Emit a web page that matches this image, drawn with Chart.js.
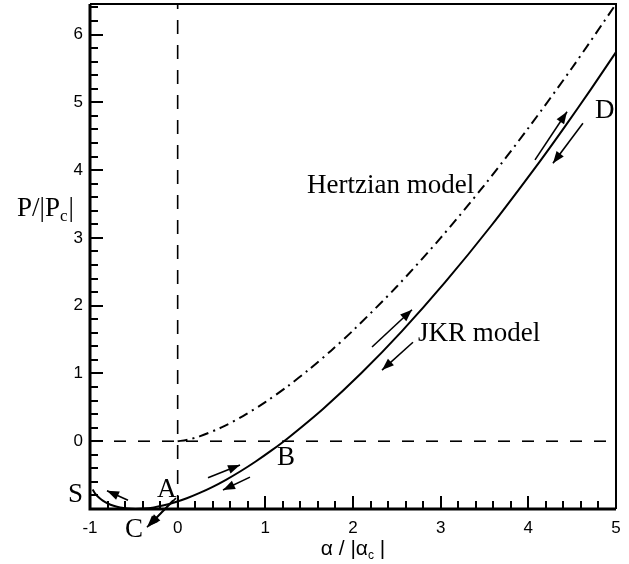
<!DOCTYPE html>
<html>
<head>
<meta charset="utf-8">
<script src="https://cdn.jsdelivr.net/npm/chart.js@4/dist/chart.umd.min.js"></script>
<style>
html,body{margin:0;padding:0;background:#fff;}
canvas{display:block;}
</style>
</head>
<body>
<canvas id="chart" width="629" height="564"></canvas>
<script>
// JKR curve (alpha/|alpha_c|, P/|Pc|), from S round C to D
const jkrAlpha = [-0.970, -0.941, -0.902, -0.854, -0.797, -0.731, -0.656, -0.573, -0.481, -0.380, -0.272, -0.155, -0.030, 0.104, 0.245, 0.394, 0.551, 0.717, 0.890, 1.071, 1.260, 1.661, 2.093, 2.556, 3.049, 3.574, 4.128, 4.417, 4.713, 5.017];
const jkrP = [-0.713, -0.773, -0.828, -0.877, -0.919, -0.953, -0.979, -0.994, -1.0, -0.994, -0.976, -0.946, -0.901, -0.842, -0.767, -0.677, -0.569, -0.443, -0.299, -0.136, 0.048, 0.480, 1.002, 1.621, 2.343, 3.175, 4.122, 4.641, 5.191, 5.773];

// Hertzian curve
const hertzAlpha = [0, 0.1, 0.25, 0.5, 0.75, 1, 1.25, 1.5, 1.75, 2, 2.5, 3, 3.5, 4, 4.5, 5];
const hertzP = [0, 0.018, 0.072, 0.204, 0.375, 0.577, 0.806, 1.06, 1.336, 1.633, 2.282, 3.0, 3.78, 4.62, 5.51, 6.45];

// axes
const xMin = -1, xMax = 5;
const yMin = -1, yMax = 6.45;

// arrows along the JKR curve (data coords), tail -> head
const arrowFromX = [4.076, 4.623, 2.217, 2.684, 0.346, 0.825, -0.567, -0.053, -0.020];
const arrowFromY = [4.15, 4.69, 1.39, 1.46, -0.54, -0.53, -0.87, -0.87, -0.84];
const arrowToX = [4.441, 4.281, 2.673, 2.331, 0.711, 0.517, -0.806, -0.350, -0.330];
const arrowToY = [4.86, 4.10, 1.94, 1.05, -0.35, -0.72, -0.73, -1.27, -1.25];

// text labels (left edge, baseline) in data coords
const labelText = ['Hertzian model', 'JKR model', 'D', 'B', 'A', 'S', 'C'];
const labelX = [1.475, 2.741, 4.760, 1.133, -0.236, -1.251, -0.601];
const labelY = [3.66, 1.478, 4.77, -0.351, -0.823, -0.897, -1.413];

function pts(xs, ys){
  return xs.map((x,i)=>({x:x, y:ys[i]}));
}

function drawArrow(ctx, x1, y1, x2, y2){
  const ang = Math.atan2(y2-y1, x2-x1);
  const L = 12, W = 4.5;
  ctx.beginPath(); ctx.moveTo(x1,y1); ctx.lineTo(x2,y2); ctx.stroke();
  ctx.beginPath();
  ctx.moveTo(x2,y2);
  ctx.lineTo(x2-L*Math.cos(ang)+W*Math.sin(ang), y2-L*Math.sin(ang)-W*Math.cos(ang));
  ctx.lineTo(x2-L*Math.cos(ang)-W*Math.sin(ang), y2-L*Math.sin(ang)+W*Math.cos(ang));
  ctx.closePath(); ctx.fill();
}

const decorPlugin = {
  id: 'decor',
  afterDraw(chart){
    const ctx = chart.ctx;
    const xs = chart.scales.x, ys = chart.scales.y;
    const a = chart.chartArea;
    ctx.save();
    ctx.setLineDash([]);
    ctx.lineCap = 'butt';
    ctx.strokeStyle = '#000'; ctx.fillStyle = '#000';

    // frame
    ctx.lineWidth = 2;
    ctx.beginPath();
    ctx.moveTo(a.left, a.top); ctx.lineTo(a.right, a.top); ctx.lineTo(a.right, a.bottom);
    ctx.stroke();
    ctx.lineWidth = 3;
    ctx.beginPath();
    ctx.moveTo(a.left, a.top); ctx.lineTo(a.left, a.bottom); ctx.lineTo(a.right, a.bottom);
    ctx.stroke();

    // inward ticks, minor every 0.2
    for(let i = -5; i <= 32; i++){
      const py = Math.round(ys.getPixelForValue(i/5));
      const len = (i%5===0) ? 13 : 8;
      ctx.fillRect(a.left, py-1, len, 2);
    }
    for(let i = -5; i <= 25; i++){
      const px = Math.round(xs.getPixelForValue(i/5));
      const len = (i%5===0) ? 13 : 8;
      ctx.fillRect(px-1, a.bottom-len, 2, len);
    }

    // arrows
    ctx.lineWidth = 1.6;
    for(let i=0;i<arrowFromX.length;i++){
      drawArrow(ctx, xs.getPixelForValue(arrowFromX[i]), ys.getPixelForValue(arrowFromY[i]),
                xs.getPixelForValue(arrowToX[i]), ys.getPixelForValue(arrowToY[i]));
    }

    // labels
    ctx.font = '27px "Liberation Serif"';
    ctx.textAlign = 'left'; ctx.textBaseline = 'alphabetic';
    for(let i=0;i<labelText.length;i++){
      ctx.fillText(labelText[i], xs.getPixelForValue(labelX[i]), ys.getPixelForValue(labelY[i]));
    }

    // y title P/|Pc|
    let tx = 17, ty = 216;
    ctx.fillText('P/|P', tx, ty);
    tx += ctx.measureText('P/|P').width;
    ctx.font = '17px "Liberation Serif"';
    ctx.fillText('c', tx, ty+5);
    tx += ctx.measureText('c').width + 1;
    ctx.font = '27px "Liberation Serif"';
    ctx.fillText('|', tx, ty);

    // x title alpha / |alpha_c|
    const p1 = '\u03b1 / |\u03b1', p3 = ' |';
    ctx.font = '12px "Liberation Sans"';
    const wSub = ctx.measureText('c').width;
    ctx.font = '21px "Liberation Sans"';
    const w1 = ctx.measureText(p1).width, w3 = ctx.measureText(p3).width;
    tx = (a.left + a.right)/2 - (w1 + wSub + w3)/2;
    ty = 555;
    ctx.fillText(p1, tx, ty);
    ctx.font = '12px "Liberation Sans"';
    ctx.fillText('c', tx + w1, ty + 4);
    ctx.font = '21px "Liberation Sans"';
    ctx.fillText(p3, tx + w1 + wSub, ty);

    ctx.restore();
  }
};

const tickFont = {family:'Liberation Sans', size:17};

const chart = new Chart(document.getElementById('chart').getContext('2d'), {
  type: 'scatter',
  data: {
    datasets: [
      {label:'zero P', data:pts([xMin, xMax],[0,0]), showLine:true, borderColor:'#000', borderWidth:1.6, borderDash:[12,12], pointRadius:0},
      {label:'zero alpha', data:pts([0,0],[yMin,yMax]), showLine:true, borderColor:'#000', borderWidth:1.6, borderDash:[14,11], pointRadius:0},
      {label:'Hertzian model', data:pts(hertzAlpha, hertzP), showLine:true, borderColor:'#000', borderWidth:2, borderDash:[10,5,2,5], tension:0.3, pointRadius:0},
      {label:'JKR model', data:pts(jkrAlpha, jkrP), showLine:true, borderColor:'#000', borderWidth:2, tension:0.3, pointRadius:0}
    ]
  },
  options: {
    responsive: false,
    animation: false,
    devicePixelRatio: 1,
    layout: {padding:{left:0, right:13, top:4, bottom:0}},
    plugins: {legend:{display:false}, tooltip:{enabled:false}},
    scales: {
      x: {
        type:'linear', min:xMin, max:xMax,
        grid:{display:false, drawTicks:false},
        border:{display:false},
        ticks:{stepSize:1, padding:9, color:'#000', font:tickFont},
        afterFit(s){ s.height = 55; s.paddingLeft = 0; s.paddingRight = 0; }
      },
      y: {
        type:'linear', min:yMin, max:yMax,
        grid:{display:false, drawTicks:false},
        border:{display:false},
        ticks:{stepSize:1, padding:7, color:'#000', font:tickFont,
          callback:v => (Number.isInteger(v) && v >= 0) ? v : ''},
        afterFit(s){ s.width = 90; s.paddingTop = 0; s.paddingBottom = 0; }
      }
    }
  },
  plugins: [decorPlugin]
});
</script>
</body>
</html>
